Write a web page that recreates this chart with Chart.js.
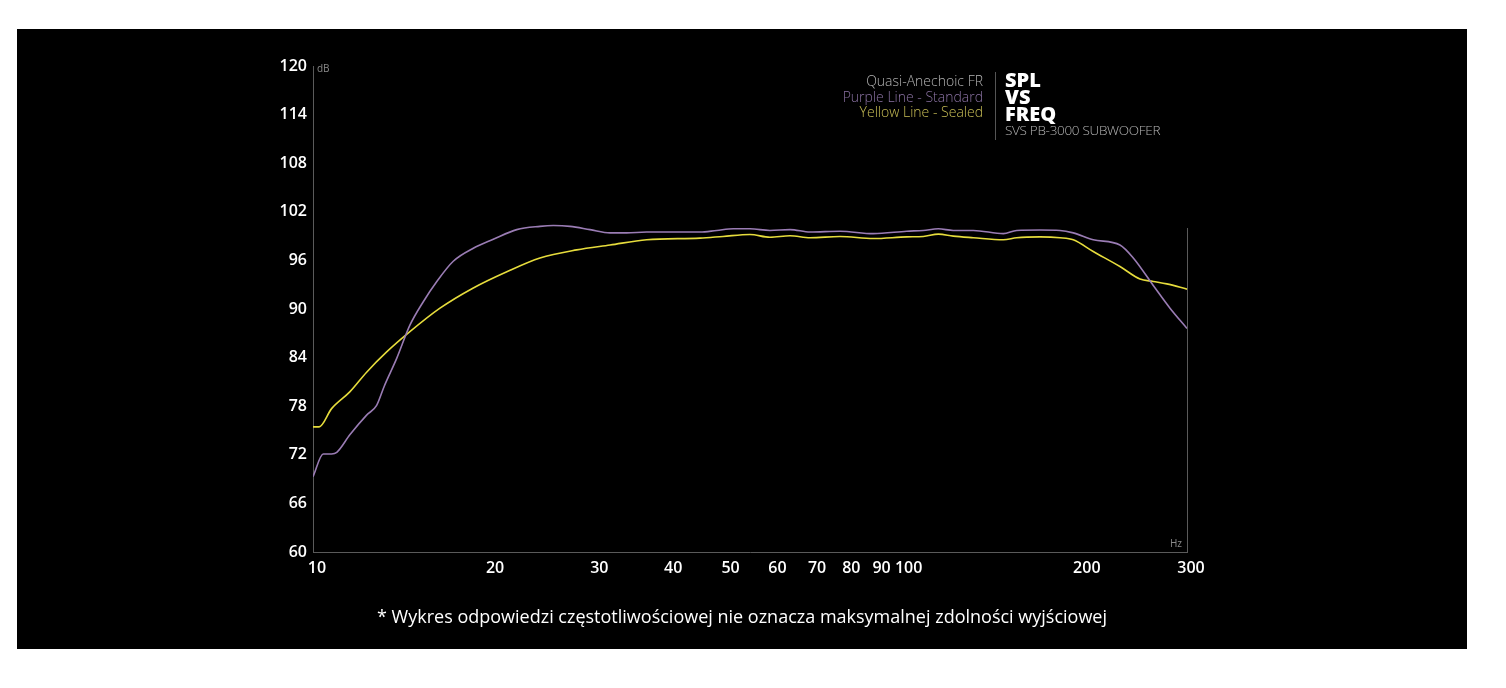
<!DOCTYPE html>
<html>
<head>
<meta charset="utf-8">
<script src="https://cdn.jsdelivr.net/npm/chart.js@4/dist/chart.umd.min.js"></script>
<style>
  html,body{margin:0;padding:0;background:#fff;width:1506px;height:688px;overflow:hidden;font-family:"Open Sans",sans-serif;}
  #box{position:absolute;left:17px;top:29px;width:1450px;height:620px;background:#000;}
  #c{position:absolute;left:0;top:0;}
  .t{position:absolute;white-space:nowrap;}
  .leg{right:484px;font-size:14px;font-weight:300;line-height:15.5px;text-align:right;}
  .big{left:988px;font-size:20px;font-weight:800;color:#fff;line-height:17px;}
  .sep{position:absolute;left:978px;top:43px;width:1px;height:68px;background:#555;}
  .unit{font-size:10px;color:#8a8a8a;}
  .note{left:0;width:1450px;text-align:center;top:575px;font-size:18px;color:#fff;}
</style>
</head>
<body>
<div id="box">
  <canvas id="c" width="1450" height="620"></canvas>
  <div class="t leg" style="top:44px;color:#b4b4b4">Quasi-Anechoic FR</div>
  <div class="t leg" style="top:60px;color:#8b72a3">Purple Line - Standard</div>
  <div class="t leg" style="top:75px;color:#c8be55">Yellow Line - Sealed</div>
  <div class="sep"></div>
  <div class="t big" style="top:42px">SPL</div>
  <div class="t big" style="top:59px">VS</div>
  <div class="t big" style="top:76px">FREQ</div>
  <div class="t" style="left:988px;top:92px;font-size:13.5px;font-weight:300;color:#b4b4b4;letter-spacing:-0.3px">SVS PB-3000 SUBWOOFER</div>
  <div class="t unit" style="left:300px;top:32px">dB</div>
  <div class="t unit" style="left:1153px;top:507px">Hz</div>
  <div class="t note">* Wykres odpowiedzi częstotliwościowej nie oznacza maksymalnej zdolności wyjściowej</div>
</div>
<script>
const xTickValues = [10,20,30,40,50,60,70,80,90,100,200,300];
const yTickValues = [60,66,72,78,84,90,96,102,108,114,120];

const purpleFreq = [10,10.41,10.75,10.97,11.55,12.32,12.81,13.2,13.85,14.58,15.36,16.19,17.26,18.66,20.17,22.1,24.19,25.48,27.19,29.39,31.77,33.9,36.64,45.09,48.12,51.33,54.76,59.2,64,69.18,77.74,88.49,100.8,107.5,114,120.8,130.6,146.8,154.6,169.3,183,192.7,208.3,231.1,243.4,263.1,280.8,300];
const purpleDb   = [69.3,72.1,72.1,72.3,74.5,76.9,78.1,80.5,83.9,88.0,90.9,93.4,95.9,97.5,98.6,99.8,100.2,100.3,100.2,99.8,99.4,99.4,99.5,99.5,99.7,99.9,99.9,99.7,99.8,99.5,99.6,99.3,99.6,99.7,99.9,99.7,99.7,99.3,99.7,99.75,99.7,99.4,98.55,97.9,96.3,92.9,90.1,87.6];

const yellowFreq = [10,10.24,10.75,11.55,12.32,13.32,14.58,16.39,18.66,21.26,24.19,27.91,31.77,36.64,45.09,49.31,54.76,59.2,64,69.18,77.74,88.49,100.8,107.5,114,120.8,130.6,146.8,154.6,169.3,183,192.7,208.3,231.1,249.8,263.1,277.3,300];
const yellowDb   = [75.45,75.45,77.7,79.8,82.2,84.7,87.2,90.1,92.6,94.6,96.3,97.3,97.9,98.55,98.75,98.96,99.2,98.85,99.05,98.8,98.95,98.7,98.9,98.95,99.25,99.0,98.8,98.55,98.8,98.9,98.8,98.55,97.1,95.25,93.7,93.4,93.1,92.45];

const toPts = (xs, ys) => xs.map((x, i) => ({x: x, y: ys[i]}));

const rightLine = {
  id: 'rightLine',
  afterDraw(chart) {
    const {ctx, scales} = chart;
    const x = scales.x.getPixelForValue(300);
    const y1 = scales.y.getPixelForValue(100);
    const y2 = scales.y.getPixelForValue(60);
    ctx.save();
    ctx.strokeStyle = '#5a5a5a';
    ctx.lineWidth = 1;
    ctx.beginPath();
    ctx.moveTo(Math.round(x) + 0.5, y1);
    ctx.lineTo(Math.round(x) + 0.5, y2);
    ctx.stroke();
    ctx.restore();
  }
};

new Chart(document.getElementById('c'), {
  type: 'line',
  data: {
    datasets: [
      {label: 'Purple Line - Standard', data: toPts(purpleFreq, purpleDb), borderColor: '#9a7cb4', borderWidth: 1.6, pointRadius: 0, cubicInterpolationMode: 'monotone', fill: false},
      {label: 'Yellow Line - Sealed', data: toPts(yellowFreq, yellowDb), borderColor: '#e6dc3c', borderWidth: 1.6, pointRadius: 0, cubicInterpolationMode: 'monotone', fill: false}
    ]
  },
  options: {
    responsive: false,
    animation: false,
    devicePixelRatio: 1,
    layout: {padding: {left: 256, top: 37, right: 280, bottom: 67}},
    plugins: {legend: {display: false}, tooltip: {enabled: false}},
    scales: {
      x: {
        type: 'logarithmic', min: 10, max: 300,
        grid: {display: false, drawTicks: false},
        border: {display: true, color: '#5a5a5a', width: 1},
        afterBuildTicks: s => { s.ticks = xTickValues.map(v => ({value: v})); },
        afterFit: s => { s.height = 30; },
        ticks: {color: '#fff', padding: 7, labelOffset: 4, autoSkip: false, maxRotation: 0, font: {family: 'Open Sans', size: 16, weight: '600'}, callback: v => String(v)}
      },
      y: {
        type: 'linear', min: 60, max: 120,
        grid: {display: false, drawTicks: false},
        border: {display: true, color: '#5a5a5a', width: 1},
        afterBuildTicks: s => { s.ticks = yTickValues.map(v => ({value: v})); },
        afterFit: s => { s.width = 40; },
        ticks: {color: '#fff', padding: 6, font: {family: 'Open Sans', size: 16, weight: '600'}}
      }
    }
  },
  plugins: [rightLine]
});
</script>
</body>
</html>
